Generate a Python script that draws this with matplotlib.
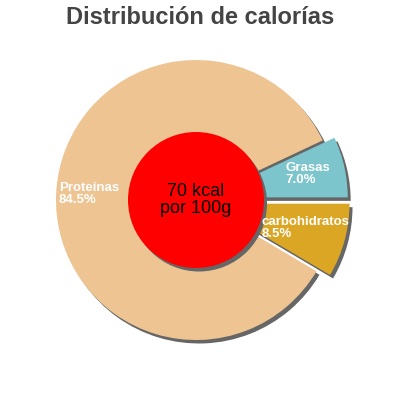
import matplotlib.pyplot as plt
import matplotlib.patches as mpatches

labels = ['Grasas', 'Proteínas', 'carbohidratos']
values = [7.0, 84.5, 8.5]
colors = ['#7cc5cc', '#edc492', '#dba624']
explode = [12, 0, 14]
# label anchor (left edge, vertical centre) in pixel coords, y up
label_pos = [(285, 226), (59, 206), (262, 172)]
center_text = '70 kcal\npor 100g'
title = 'Distribución de calorías'

cx, cy = 196, 200
R = 140
shadow = '#666666'
sx, sy = 3, -3.5

plt.rcParams['font.family'] = ['Liberation Sans', 'DejaVu Sans']

fig = plt.figure(figsize=(4, 4), dpi=100)
ax = fig.add_axes([0, 0, 1, 1])

wedges, _ = ax.pie(values, colors=colors, startangle=0, counterclock=True,
                   explode=explode, radius=R, center=(cx, cy))
for w in wedges:
    w.set_zorder(2)
    w.set_linewidth(0)
    sh = mpatches.Wedge((w.center[0] + sx, w.center[1] + sy), w.r,
                        w.theta1, w.theta2, color=shadow, zorder=1, lw=0)
    ax.add_patch(sh)

ax.add_patch(mpatches.Circle((cx + sx, cy + sy), 68, color=shadow, zorder=3, lw=0))
ax.add_patch(mpatches.Circle((cx, cy), 68, color='#ff0000', zorder=4, lw=0))

for lab, v, (lx, ly) in zip(labels, values, label_pos):
    ax.text(lx, ly, f'{lab}\n{v:.1f}%', color='white', fontsize=9.5,
            fontweight='bold', ha='left', va='center', linespacing=0.95,
            zorder=5)

ax.text(cx, cy, center_text, color='black', fontsize=13, ha='center',
        va='center', linespacing=1.0, zorder=6)

ax.set_xlim(0, 400)
ax.set_ylim(0, 400)
ax.set_aspect('equal')
ax.axis('off')

fig.text(0.5, 1 - 17 / 400, title, ha='center', va='center', fontsize=17,
         fontweight='bold', color='#444444')

fig.savefig('out.png', dpi=100)
